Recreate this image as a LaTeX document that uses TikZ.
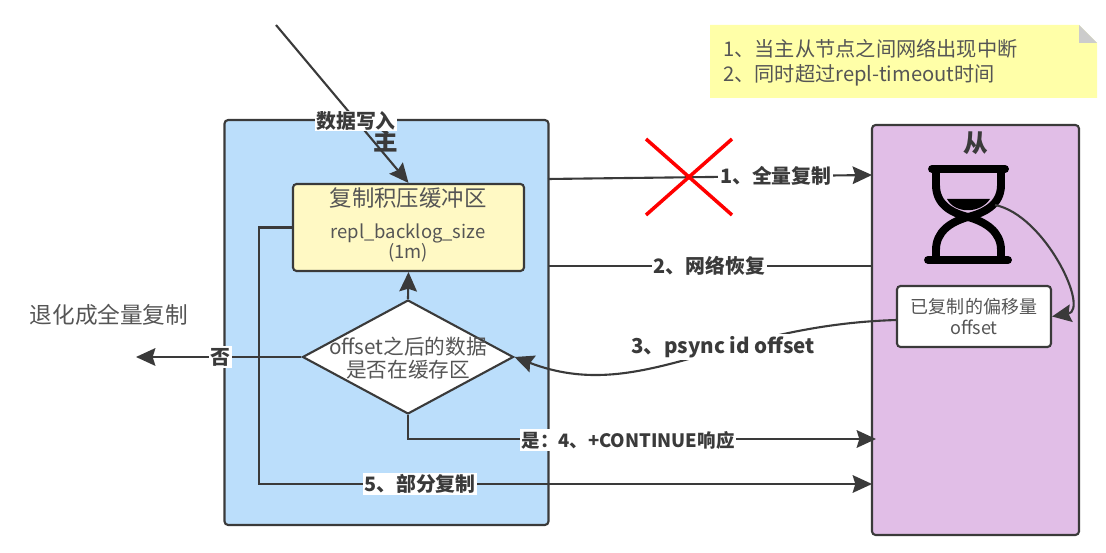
\documentclass[tikz,border=0pt]{standalone}
\usepackage{fontspec}
\setmainfont{Noto Sans CJK SC}
\usepackage{xcolor}
\usetikzlibrary{shapes.geometric,arrows.meta}
\definecolor{inkgray}{HTML}{3A3A3A}
\definecolor{textgray}{HTML}{555555}
\definecolor{masterblue}{HTML}{BBDEFB}
\definecolor{slavepurple}{HTML}{E1BEE7}
\definecolor{bufferyellow}{HTML}{FFF9C4}
\definecolor{noteyellow}{HTML}{FFFFA8}
\begin{document}
\begin{tikzpicture}[
    x=0.02cm, y=-0.02cm,
    box/.style={rectangle, draw=inkgray, line width=1.2pt, rounded corners=2pt, text=textgray},
    arrow/.style={-{Stealth[length=11pt,width=10pt,inset=1.5pt]}, draw=inkgray, line width=1.2pt},
    wire/.style={draw=inkgray, line width=1.2pt},
    edgelabel/.style={fill=white, inner sep=1pt, text=inkgray, font=\fontsize{11.3pt}{13pt}\selectfont\bfseries},
    glass/.style={draw=black, line width=4.5pt, line cap=round}
]
    \useasboundingbox (0,0) rectangle (1106,553);

    % Master side
    \node[box, fill=masterblue, minimum width=6.48cm, minimum height=8.1cm] (master) at (386.5,322.5) {};
    \node[text=inkgray, font=\fontsize{14pt}{16pt}\selectfont\bfseries] (mastertitle) at (386,141) {主};
    \node[box, fill=bufferyellow, minimum width=4.62cm, minimum height=1.74cm, inner sep=0pt, align=center] (buffer) at (408.5,227.5) {};
    \node[text=textgray, font=\fontsize{12.75pt}{15pt}\selectfont] (buffertitle) at (408,198) {复制积压缓冲区};
    \node[text=textgray, font=\fontsize{10.5pt}{12.5pt}\selectfont, align=center, inner sep=0pt] (buffersize) at (408,243) {repl\_backlog\_size\\[-1pt](1m)};
    \node[diamond, draw=inkgray, line width=1.2pt, fill=white, minimum width=4.22cm, minimum height=2.28cm, inner sep=0pt] (check) at (408,357) {};
    \node[text=textgray, font=\fontsize{11.75pt}{13.5pt}\selectfont, align=center, inner sep=0pt] (checktext) at (408,358) {offset之后的数据\\是否在缓存区};

    % Slave side
    \node[box, fill=slavepurple, minimum width=4.14cm, minimum height=8.2cm] (slave) at (975.5,330) {};
    \node[text=inkgray, font=\fontsize{14pt}{16pt}\selectfont\bfseries] (slavetitle) at (976,143) {从};
    \node[box, fill=white, minimum width=3.08cm, minimum height=1.22cm, inner sep=0pt, align=center, font=\fontsize{10.25pt}{12pt}\selectfont] (offset) at (974,316.5) {已复制的偏移量\\offset};

    % Hourglass
    \draw[glass] (932,169) -- (1005,169);
    \draw[glass] (928,260) -- (1008,260);
    \draw[glass] (936,169) -- (936,185) .. controls (936,205) and (952,213) .. (968,217) .. controls (984,213) and (1001,205) .. (1001,185) -- (1001,169);
    \draw[glass] (936,260) -- (936,250) .. controls (936,232) and (950,222) .. (968,217) .. controls (986,222) and (1001,232) .. (1001,250) -- (1001,260);
    \fill[black] (947,199) .. controls (955,214) and (980,214) .. (990,199) -- cycle;
    \coordinate (sand) at (995,205);

    % Note
    \fill[noteyellow] (710,25) -- (1079,25) -- (1097,43) -- (1097,98) -- (710,98) -- cycle;
    \fill[black!20] (1079,25) -- (1097,43) -- (1079,43) -- cycle;
    \node[anchor=west, text=textgray, inner sep=0pt, align=left, font=\fontsize{11.5pt}{14.4pt}\selectfont] (note) at (723,63) {1、当主从节点之间网络出现中断\\2、同时超过repl-timeout时间};

    % Fallback text
    \node[text=textgray, font=\fontsize{12.9pt}{15pt}\selectfont] (fallback) at (109,315) {退化成全量复制};

    % Free ends
    \coordinate (write) at (276,25);
    \coordinate (fullfrom) at (548,179);
    \coordinate (fullto) at (872,175);
    \coordinate (recoverfrom) at (548,266);
    \coordinate (recoverto) at (872,266);
    \coordinate (psyncfrom) at (897,320);
    \coordinate (contto) at (876,439);
    \coordinate (partto) at (872,484);
    \coordinate (partbend) at (259,484);
    \coordinate (fallbackto) at (136,357);

    % Arrows
    \draw[arrow] (write) -- (buffer.north);
    \node[edgelabel, inner sep=0.5pt] (writelabel) at (356,121) {数据写入};
    \draw[arrow] (fullfrom) -- node[edgelabel, pos=0.703] (fulllabel) {1、全量复制} (fullto);
    \draw[wire] (recoverfrom) -- node[edgelabel, pos=0.498] (recoverlabel) {2、网络恢复} (recoverto);
    \draw[arrow] (psyncfrom) .. controls (720,325) and (640,405) .. (check.east);
    \node[edgelabel, font=\fontsize{11.7pt}{14pt}\selectfont\bfseries] (psynclabel) at (723,347) {3、psync id offset};
    \draw[arrow] (check.south) |- (contto);
    \node[edgelabel, font=\fontsize{10.5pt}{12pt}\selectfont\bfseries] (contlabel) at (628,440) {是：4、+CONTINUE响应};
    \draw[arrow] (buffer.west) -| (partbend) -- (partto);
    \node[edgelabel] (partlabel) at (420,484) {5、部分复制};
    \draw[arrow] (check.north) -- (buffer.south);
    \draw[arrow] (check.west) -- node[edgelabel, pos=0.49] (nolabel) {否} (fallbackto);
    \draw[arrow] (sand) .. controls (1045,215) and (1090,310) .. (offset.east);

    % Red cross
    \draw[red, line width=2pt] (646,139) -- (732,215);
    \draw[red, line width=2pt] (732,139) -- (646,215);
\end{tikzpicture}
\end{document}
